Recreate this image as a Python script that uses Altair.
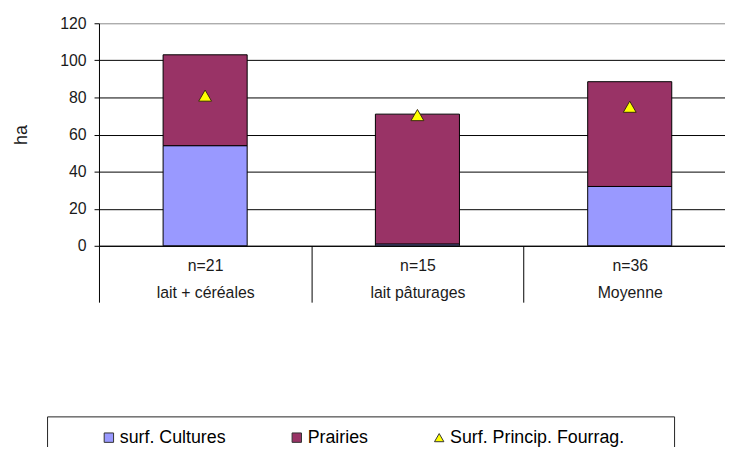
import altair as alt
import pandas as pd

categories = ["lait + céréales", "lait pâturages", "Moyenne"]
effectifs = ["n=21", "n=15", "n=36"]
surf_cultures = [54, 1, 32]
prairies = [49, 70, 56.5]
surf_princip_fourrag = [81, 70.5, 75]
series = ["surf. Cultures", "Prairies", "Surf. Princip. Fourrag."]
colors = ["#9999FF", "#993366", "#FFFF00"]
y_ticks = [0, 20, 40, 60, 80, 100, 120]

FONT = "Liberation Sans"
labels = [f"{n}\n{c}" for n, c in zip(effectifs, categories)]

bars_df = pd.DataFrame({
    "groupe": labels * 2,
    "serie": [series[0]] * 3 + [series[1]] * 3,
    "ha": surf_cultures + prairies,
    "ordre": [0] * 3 + [1] * 3,
})
pts_df = pd.DataFrame({
    "groupe": labels,
    "serie": [series[2]] * 3,
    "ha": surf_princip_fourrag,
})

legend = alt.Legend(
    title=None, orient="none", legendX=1, legendY=410, direction="horizontal",
    columnPadding=62, labelFontSize=18, labelFont=FONT, labelColor="black",
    labelLimit=400, symbolSize=90, symbolStrokeColor="#333333", symbolStrokeWidth=1,
    padding=0, labelOffset=2,
)

x_enc = alt.X(
    "groupe:N", sort=labels,
    scale=alt.Scale(domain=labels, range=[0, 644], paddingInner=0, paddingOuter=0),
    axis=alt.Axis(
        title=None, labelExpr="split(datum.label, '\\n')", tickBand="extent",
        tickSize=57, tickColor="black", tickWidth=1, domainColor="black",
        labelAngle=0, labelFontSize=16, labelLineHeight=27, labelPadding=-45,
        labelColor="#1a1a1a", labelFont=FONT,
    ),
)
y_axis = alt.Axis(
    values=y_ticks, title="ha", titleFontSize=18, titleFont=FONT,
    titleFontWeight="normal", titleColor="#1a1a1a", titlePadding=30,
    labelFontSize=16, labelFont=FONT, labelColor="#1a1a1a", labelPadding=8,
    labelOverlap=False, tickSize=5, tickColor="black", domainColor="black",
    gridColor=alt.condition("datum.value == 120", alt.value("#999999"), alt.value("#000000")),
    grid=True,
)
y_scale = alt.Scale(domain=[0, 120], nice=False)

color_enc = alt.Color("serie:N", scale=alt.Scale(domain=series, range=colors), legend=legend)

bars = alt.Chart(bars_df).mark_bar(size=85, stroke="black", strokeWidth=1).encode(
    x=x_enc,
    y=alt.Y("ha:Q", stack="zero", scale=y_scale, axis=y_axis),
    color=color_enc,
    order=alt.Order("ordre:Q"),
)

points = alt.Chart(pts_df).mark_point(
    filled=True, size=170, stroke="#3a2a10", strokeWidth=1, opacity=1
).encode(
    x=x_enc,
    y=alt.Y("ha:Q", scale=y_scale, axis=y_axis),
    color=color_enc,
    shape=alt.Shape("serie:N", scale=alt.Scale(domain=series, range=["square", "square", "triangle-up"]), legend=legend),
)

box = alt.Chart(pd.DataFrame({"a": [0]})).mark_rect(
    fill="transparent", stroke="#222222", strokeWidth=1
).encode(x=alt.value(-52), x2=alt.value(582), y=alt.value(398), y2=alt.value(470))

chart = alt.layer(bars, points, box).properties(
    width=633, height=225,
    autosize=alt.AutoSizeParams(type="none"),
    padding={"left": 92, "top": 13, "right": 0, "bottom": 201},
).configure_view(strokeWidth=0).configure(font=FONT)

chart.save("out.html", embed_options={"renderer": "svg", "actions": False})
